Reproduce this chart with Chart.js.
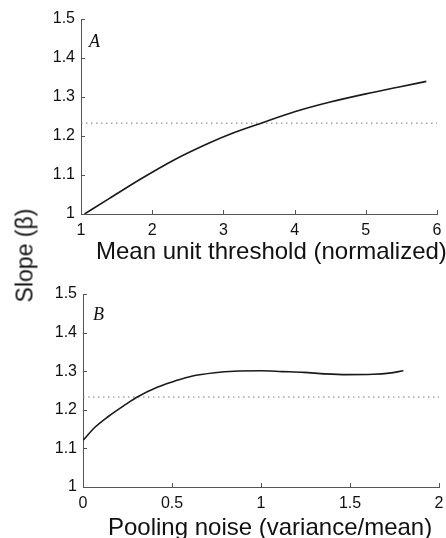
<!DOCTYPE html>
<html>
<head>
<meta charset="utf-8">
<script src="https://cdn.jsdelivr.net/npm/chart.js@4/dist/chart.umd.min.js"></script>
<style>
  body { margin: 0; background: #fff; }
  #wrap { position: relative; width: 446px; height: 538px; overflow: hidden; background: #fff; }
  canvas { position: absolute; left: 0; }
  .lbl { position: absolute; font-family: "Liberation Sans", Arial, sans-serif; font-size: 24px; line-height: 24px; color: #111; white-space: nowrap; }
  .panel { position: absolute; font-family: "Liberation Serif", "Times New Roman", serif; font-style: italic; font-size: 18px; line-height: 18px; color: #111; }
</style>
</head>
<body>
<div id="wrap">
  <canvas id="chartA" width="446" height="270" style="top:0"></canvas>
  <canvas id="chartB" width="446" height="268" style="top:270px"></canvas>
  <div class="panel" style="left:89px; top:32px;">A</div>
  <div class="panel" style="left:93px; top:305px;">B</div>
  <div class="lbl" style="left:96px; top:239px;">Mean unit threshold (normalized)</div>
  <div class="lbl" style="left:108px; top:515px;">Pooling noise (variance/mean)</div>
  <div class="lbl" style="left:-35px; top:244px; width:120px; font-size:23px; line-height:23px; text-align:center; transform:rotate(-90deg);">Slope (β)</div>
</div>
<script>
// panel A: slope vs mean unit threshold
const thresholdX = [1.05, 1.4, 1.85, 2.3, 2.8, 3.1, 3.55, 4.0, 4.5, 5.0, 5.45, 5.85];
const thresholdSlope = [1.0, 1.04, 1.091, 1.138, 1.182, 1.205, 1.234, 1.262, 1.287, 1.308, 1.325, 1.34];
const thresholdTicks = [1, 2, 3, 4, 5, 6];

// panel B: slope vs pooling noise
const noiseX = [0, 0.07, 0.14, 0.24, 0.3, 0.42, 0.52, 0.61, 0.74, 0.85, 1.0, 1.12, 1.24, 1.36, 1.48, 1.63, 1.72, 1.8];
const noiseSlope = [1.121, 1.156, 1.182, 1.214, 1.232, 1.259, 1.275, 1.287, 1.296, 1.3, 1.301, 1.299, 1.297, 1.293, 1.291, 1.292, 1.295, 1.301];
const noiseTicks = [0, 0.5, 1, 1.5, 2];

// shared y axis and the dotted reference level
const slopeTicks = [1, 1.1, 1.2, 1.3, 1.4, 1.5];
const refSlope = 1.233;

const axisColor = '#555';
const tickFont = { family: '"Liberation Sans", Arial, sans-serif', size: 16 };

function fmt(v) {
    return String(+v.toFixed(2));
}

// matlab-style ticks pointing into the plot
const inwardTicks = {
    id: 'inwardTicks',
    afterDraw(chart) {
        const { ctx, chartArea, scales } = chart;
        ctx.save();
        ctx.strokeStyle = axisColor;
        ctx.lineWidth = 1;
        ctx.beginPath();
        scales.x.ticks.forEach(t => {
            const px = Math.round(scales.x.getPixelForValue(t.value)) + 0.5;
            ctx.moveTo(px, chartArea.bottom);
            ctx.lineTo(px, chartArea.bottom - 4);
        });
        scales.y.ticks.forEach(t => {
            const py = Math.round(scales.y.getPixelForValue(t.value)) + 0.5;
            ctx.moveTo(chartArea.left, py);
            ctx.lineTo(chartArea.left + 4, py);
        });
        ctx.stroke();
        ctx.restore();
    }
};

function makePanel(canvasId, xs, ys, xTicks, box) {
    const curve = xs.map((x, i) => ({ x: x, y: ys[i] }));
    const xMin = xTicks[0];
    const xMax = xTicks[xTicks.length - 1];
    const ref = [{ x: xMin, y: refSlope }, { x: xMax, y: refSlope }];

    return new Chart(document.getElementById(canvasId), {
        type: 'scatter',
        data: {
            datasets: [
                {
                    data: curve,
                    showLine: true,
                    borderColor: '#1a1a1a',
                    borderWidth: 1.6,
                    pointRadius: 0,
                    cubicInterpolationMode: 'monotone'
                },
                {
                    data: ref,
                    showLine: true,
                    borderColor: '#777',
                    borderWidth: 1,
                    borderDash: [1.5, 3.5],
                    pointRadius: 0
                }
            ]
        },
        options: {
            responsive: false,
            animation: false,
            layout: { padding: { top: box.top, right: box.right, left: 0, bottom: 0 } },
            plugins: { legend: { display: false }, tooltip: { enabled: false } },
            scales: {
                x: {
                    type: 'linear',
                    min: xMin,
                    max: xMax,
                    afterBuildTicks: s => { s.ticks = xTicks.map(v => ({ value: v })); },
                    afterFit: s => {
                        s.height = box.xHeight;
                        s.paddingLeft = 0;
                        s.paddingRight = 0;
                    },
                    border: { color: axisColor, width: 1 },
                    grid: { drawOnChartArea: false, drawTicks: false },
                    ticks: { padding: 7, color: '#111', font: tickFont, maxRotation: 0, callback: fmt }
                },
                y: {
                    type: 'linear',
                    min: 1,
                    max: 1.5,
                    afterBuildTicks: s => { s.ticks = slopeTicks.map(v => ({ value: v })); },
                    afterFit: s => { s.width = box.left; },
                    border: { color: axisColor, width: 1 },
                    grid: { drawOnChartArea: false, drawTicks: false },
                    ticks: { padding: 6, color: '#111', font: tickFont, callback: fmt }
                }
            }
        },
        plugins: [inwardTicks]
    });
}

makePanel('chartA', thresholdX, thresholdSlope, thresholdTicks, { top: 19, right: 9, left: 81, xHeight: 56 });
makePanel('chartB', noiseX, noiseSlope, noiseTicks, { top: 24, right: 7, left: 83, xHeight: 51 });
</script>
</body>
</html>
